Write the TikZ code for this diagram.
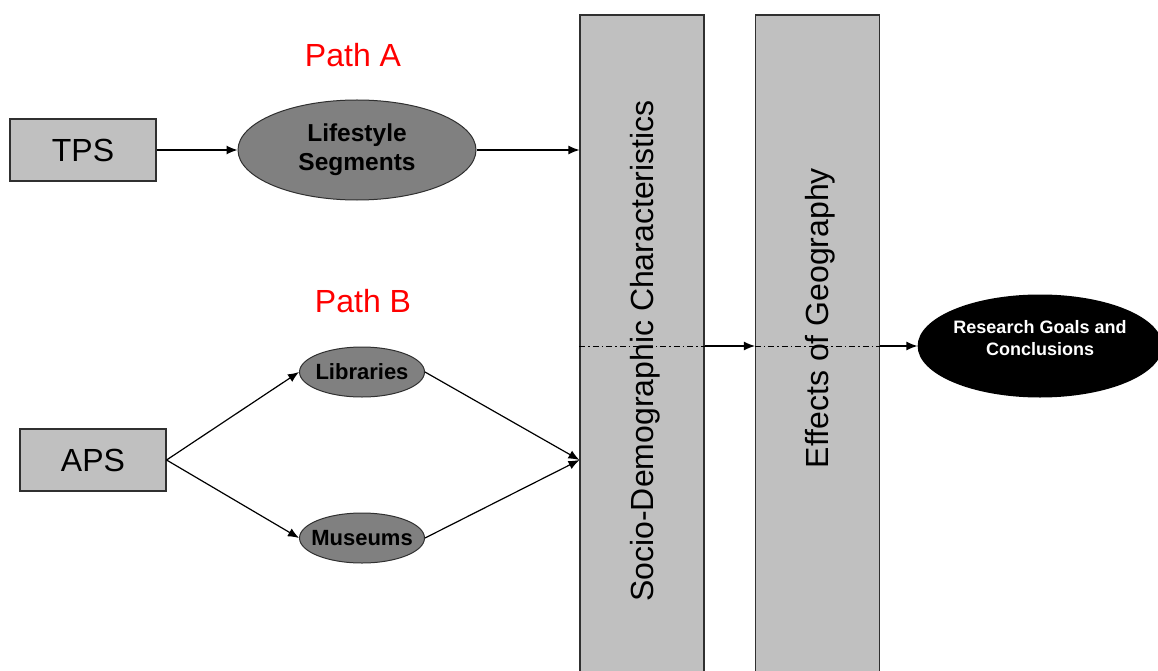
\documentclass[tikz,border=0pt]{standalone}
\usepackage{fontspec}
\setmainfont{Liberation Sans}
\usepackage{tikz}
\usetikzlibrary{arrows.meta, positioning, shapes.geometric, calc}
\definecolor{cBox}{HTML}{C0C0C0}
\definecolor{cSeg}{HTML}{808080}
\definecolor{cLine}{HTML}{303030}
\definecolor{cPath}{HTML}{FF0000}

\begin{document}
\begin{tikzpicture}[
    x=1pt, y=-1pt,
    >=Latex,
    arrow/.style={-{Latex[length=11pt,width=9pt]}, line width=1.2pt},
    box/.style={draw=cLine, line width=1.1pt, fill=cBox, minimum width=146pt, minimum height=62pt,
                font=\fontsize{32}{36}\selectfont},
    seg/.style={ellipse, draw=cLine, line width=1pt, fill=cSeg, inner sep=0pt,
                font=\fontsize{24.5}{29}\selectfont\bfseries, align=center},
    smallseg/.style={seg, inner xsep=-7pt, minimum width=125pt, minimum height=50pt,
                font=\fontsize{22}{26}\selectfont\bfseries},
    bar/.style={draw=cLine, line width=1.1pt, fill=cBox, minimum width=124pt, minimum height=680pt},
    bartext/.style={rotate=90, font=\fontsize{32}{36}\selectfont},
    pathlab/.style={text=cPath, font=\fontsize{32}{36}\selectfont},
    goal/.style={ellipse, fill=black, text=white, inner sep=0pt, minimum width=240pt, minimum height=103pt,
                 font=\fontsize{18}{22}\selectfont\bfseries, align=center},
    midline/.style={line width=0.8pt, dash pattern=on 6pt off 3pt on 1.5pt off 3pt},
]

% ---------- Frame ----------
\clip (0,0) rectangle (1158,671);
\fill[white] (0,0) rectangle (1158,671);

% ---------- Bars ----------
\node[bar] (socio) at (642,355) {};
\node[bar] (geo)   at (817.5,355) {};
\node[bartext] (sociotxt) at (645,351) {Socio-Demographic Characteristics};
\node[bartext] (geotxt)   at (820,318) {Effects of Geography};

% ---------- Path A ----------
\node[pathlab] (patha) at (353,55) {Path A};
\node[box] (tps) at (83,150) {TPS};
\node[seg, minimum width=238pt, minimum height=100pt] (life) at (357,150) {Lifestyle\\Segments};

% ---------- Path B ----------
\node[pathlab] (pathb) at (363,301) {Path B};
\node[box] (aps) at (93,460) {APS};
\node[smallseg] (lib) at (362,372) {Libraries};
\node[smallseg] (mus) at (362,538) {Museums};

% ---------- Goals ----------
\node[goal] (goals) at (1040,346) {Research Goals and\\Conclusions\\[-6pt]};

% ---------- Dash-dot lines across bars ----------
\draw[midline] (socio.west |- goals) -- (socio.east |- goals);
\draw[midline] (geo.west |- goals) -- (geo.east |- goals);

% ---------- Arrows ----------
\draw[arrow] (tps) -- (life);
\draw[arrow] (life.east) -- (life.east -| socio.west);
\draw[arrow] (aps.east) -- (lib.west);
\draw[arrow] (aps.east) -- (mus.west);
\coordinate (bin) at (socio.west |- aps);
\draw[arrow] (lib.east) -- (bin);
\draw[arrow] (mus.east) -- (bin);
\draw[arrow] (socio.east |- goals) -- (geo.west |- goals);
\draw[arrow] (geo.east |- goals) -- (goals.west);

\end{tikzpicture}
\end{document}
